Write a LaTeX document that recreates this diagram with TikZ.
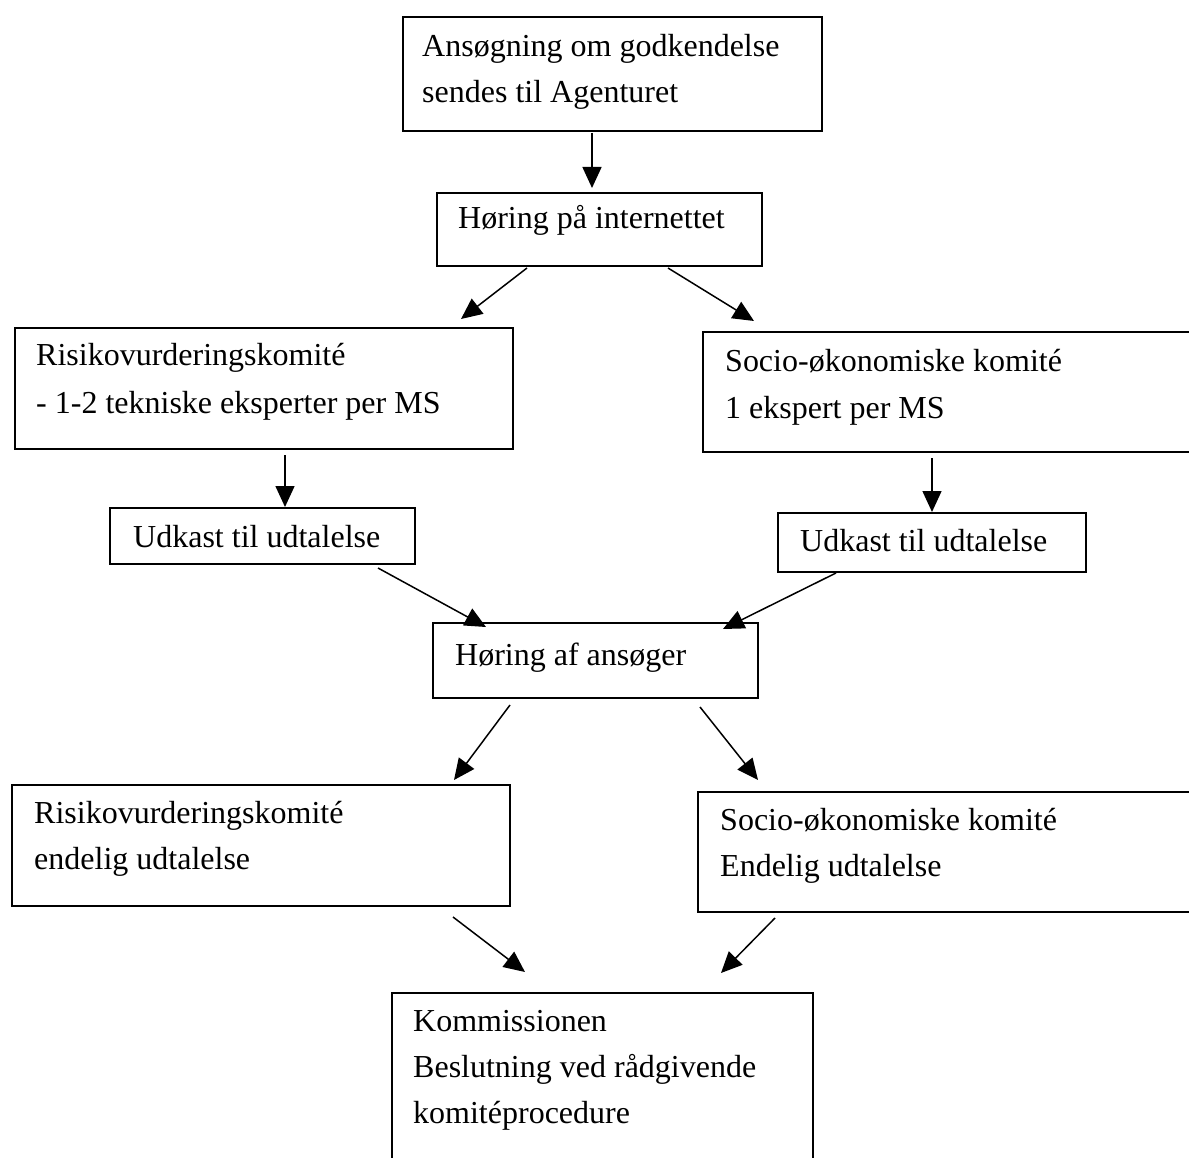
\documentclass[tikz,border=0pt]{standalone}
\usepackage{fontspec}
\setmainfont{Liberation Serif}
\usetikzlibrary{arrows.meta,fit}
\tikzset{
  box/.style={draw, line width=1.8pt, rectangle, inner sep=0pt},
  txt/.style={anchor=base west, inner sep=0pt, font=\fontsize{32}{46}\selectfont},
  arr/.style={line width=1.5pt, -{Triangle[length=21pt,width=19pt]}}
}
\begin{document}
\begin{tikzpicture}[x=1pt,y=-1pt]
\useasboundingbox (0,0) rectangle (1189,1158);
\clip (0,0) rectangle (1189,1158);
\fill[white] (0,0) rectangle (1189,1158);
% boxes
\node[box, fit={(403,17) (822,131)}] (b1) {};
\node[box, fit={(437,193) (762,266)}] (b2) {};
\node[box, fit={(15,328) (513,449)}] (b3) {};
\node[box, fit={(703,332) (1205,452)}] (b4) {};
\node[box, fit={(110,508) (415,564)}] (b5) {};
\node[box, fit={(778,513) (1086,572)}] (b6) {};
\node[box, fit={(433,623) (758,698)}] (b7) {};
\node[box, fit={(12,785) (510,906)}] (b8) {};
\node[box, fit={(698,792) (1205,912)}] (b9) {};
\node[box, fit={(392,993) (813,1175)}] (b10) {};
% texts
\node[txt] (t1a) at (422,57) {Ansøgning om godkendelse};
\node[txt] (t1b) at (422,103) {sendes til Agenturet};
\node[txt] (t2) at (458,229) {Høring på internettet};
\node[txt] (t3a) at (36,366) {Risikovurderingskomité};
\node[txt] (t3b) at (36,413) {- 1-2 tekniske eksperter per MS};
\node[txt] (t4a) at (725,371) {Socio-økonomiske komité};
\node[txt] (t4b) at (725,418) {1 ekspert per MS};
\node[txt] (t5) at (133,547) {Udkast til udtalelse};
\node[txt] (t6) at (800,551) {Udkast til udtalelse};
\node[txt] (t7) at (455,665) {Høring af ansøger};
\node[txt] (t8a) at (34,823) {Risikovurderingskomité};
\node[txt] (t8b) at (34,869) {endelig udtalelse};
\node[txt] (t9a) at (720,830) {Socio-økonomiske komité};
\node[txt] (t9b) at (720,876) {Endelig udtalelse};
\node[txt] (t10a) at (413,1031) {Kommissionen};
\node[txt] (t10b) at (413,1077) {Beslutning ved rådgivende};
\node[txt] (t10c) at (413,1123) {komitéprocedure};
% arrow end points
\coordinate (a1s) at (592,133);  \coordinate (a1e) at (592,188);
\coordinate (a2s) at (527,268);  \coordinate (a2e) at (461,319);
\coordinate (a3s) at (668,268);  \coordinate (a3e) at (754,321);
\coordinate (a4s) at (285,455);  \coordinate (a4e) at (285,507);
\coordinate (a5s) at (932,458);  \coordinate (a5e) at (932,512);
\coordinate (a6s) at (378,568);  \coordinate (a6e) at (486,627);
\coordinate (a7s) at (836,573);  \coordinate (a7e) at (723,629);
\coordinate (a8s) at (510,705);  \coordinate (a8e) at (454,780);
\coordinate (a9s) at (700,707);  \coordinate (a9e) at (758,780);
\coordinate (a10s) at (453,917); \coordinate (a10e) at (525,972);
\coordinate (a11s) at (775,918); \coordinate (a11e) at (721,973);
\draw[arr] (a1s) -- (a1e);
\draw[arr] (a2s) -- (a2e);
\draw[arr] (a3s) -- (a3e);
\draw[arr] (a4s) -- (a4e);
\draw[arr] (a5s) -- (a5e);
\draw[arr] (a6s) -- (a6e);
\draw[arr] (a7s) -- (a7e);
\draw[arr] (a8s) -- (a8e);
\draw[arr] (a9s) -- (a9e);
\draw[arr] (a10s) -- (a10e);
\draw[arr] (a11s) -- (a11e);
\end{tikzpicture}
\end{document}
